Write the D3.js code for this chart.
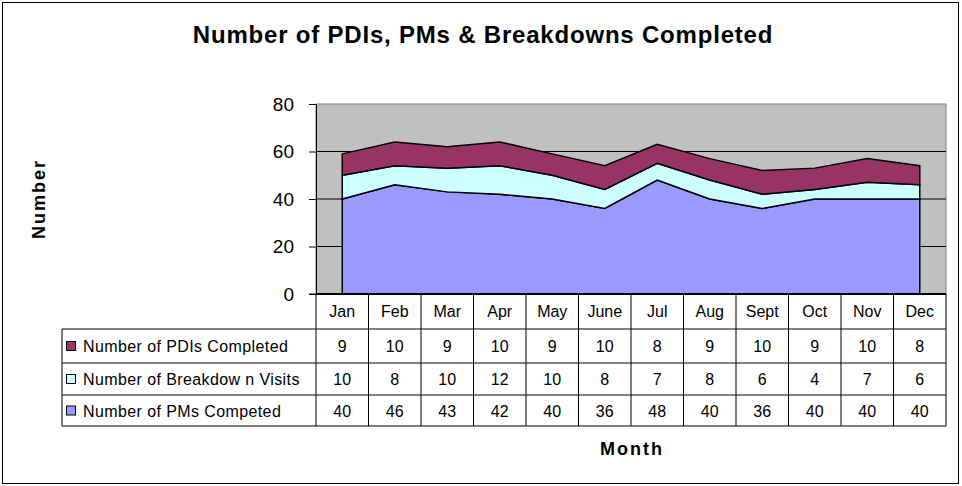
<!DOCTYPE html>
<html>
<head>
<meta charset="utf-8">
<script src="https://cdn.jsdelivr.net/npm/d3@7"></script>
<style>
  body { margin: 0; background: #fff; }
  text { font-family: "Liberation Sans", Arial, sans-serif; }
</style>
</head>
<body>
<div id="chart"></div>
<script>
var months = ["Jan", "Feb", "Mar", "Apr", "May", "June", "Jul", "Aug", "Sept", "Oct", "Nov", "Dec"];
var pms = [40, 46, 43, 42, 40, 36, 48, 40, 36, 40, 40, 40];
var breakdowns = [10, 8, 10, 12, 10, 8, 7, 8, 6, 4, 7, 6];
var pdis = [9, 10, 9, 10, 9, 10, 8, 9, 10, 9, 10, 8];
var yTicks = [0, 20, 40, 60, 80];

var seriesNames = ["Number of PMs Competed", "Number of Breakdow n Visits", "Number of PDIs Completed"];
var seriesColors = ["#9999FF", "#CCFFFF", "#993366"];

var svgWidth = 962;
var svgHeight = 486;

var plot = { left: 316, right: 946, top: 104, bottom: 294 };
var legendLeft = 62;
var rowLines = [294, 329, 363, 395, 426];

var svg = d3.select("#chart")
  .append("svg")
  .attr("width", svgWidth)
  .attr("height", svgHeight);

// outer frame
svg.append("rect")
  .attr("x", 2.5).attr("y", 2.5)
  .attr("width", 956).attr("height", 481)
  .attr("fill", "#fff")
  .attr("stroke", "#000")
  .attr("stroke-width", 1);

// build table rows for stacking
var table = months.map(function(m, i) {
  return { month: m, pms: pms[i], breakdowns: breakdowns[i], pdis: pdis[i] };
});
var keys = ["pms", "breakdowns", "pdis"];
var stacked = d3.stack().keys(keys)(table);

var xBand = d3.scaleBand()
  .domain(months)
  .range([plot.left, plot.right]);

var yScale = d3.scaleLinear()
  .domain([0, 80])
  .range([plot.bottom, plot.top]);

// plot background
svg.append("rect")
  .attr("x", plot.left).attr("y", plot.top)
  .attr("width", plot.right - plot.left)
  .attr("height", plot.bottom - plot.top)
  .attr("fill", "#C0C0C0")
  .attr("stroke", "#808080")
  .attr("stroke-width", 1);

// gridlines
svg.append("g")
  .selectAll("line")
  .data(yTicks.filter(function(t) { return t > 0 && t < 80; }))
  .enter()
  .append("line")
  .attr("x1", plot.left).attr("x2", plot.right)
  .attr("y1", function(d) { return yScale(d); })
  .attr("y2", function(d) { return yScale(d); })
  .attr("stroke", "#000")
  .attr("stroke-width", 1);

// areas
var xMid = function(d) { return xBand(d.data.month) + xBand.bandwidth() / 2; };
var area = d3.area()
  .x(xMid)
  .y0(function(d) { return yScale(d[0]); })
  .y1(function(d) { return yScale(d[1]); });

svg.append("g")
  .selectAll("path")
  .data(stacked)
  .enter()
  .append("path")
  .attr("d", area)
  .attr("fill", function(d, i) { return seriesColors[i]; })
  .attr("stroke", "#000")
  .attr("stroke-width", 1.5)
  .attr("stroke-linejoin", "miter");

// y axis
var yAxis = d3.axisLeft(yScale)
  .tickValues(yTicks)
  .tickSize(7)
  .tickPadding(15);

var yAxisG = svg.append("g")
  .attr("transform", "translate(" + plot.left + ",0)")
  .call(yAxis);
yAxisG.select(".domain").attr("stroke", "#000");
yAxisG.selectAll("line").attr("stroke", "#000");
yAxisG.selectAll("text")
  .style("font-family", "'Liberation Sans', Arial, sans-serif")
  .style("font-size", "19px")
  .attr("fill", "#000");

// data table
var tableG = svg.append("g");
var rows = [
  { name: seriesNames[2], color: seriesColors[2], values: pdis },
  { name: seriesNames[1], color: seriesColors[1], values: breakdowns },
  { name: seriesNames[0], color: seriesColors[0], values: pms }
];

// horizontal lines
tableG.append("line")
  .attr("x1", plot.left).attr("x2", plot.right)
  .attr("y1", rowLines[0]).attr("y2", rowLines[0])
  .attr("stroke", "#000").attr("stroke-width", 2);
rowLines.slice(1).forEach(function(y) {
  tableG.append("line")
    .attr("x1", legendLeft).attr("x2", plot.right)
    .attr("y1", y).attr("y2", y)
    .attr("stroke", "#000").attr("stroke-width", 1);
});
// extend zero line as a tick
tableG.append("line")
  .attr("x1", plot.left - 7).attr("x2", plot.left)
  .attr("y1", rowLines[0]).attr("y2", rowLines[0])
  .attr("stroke", "#000");

// vertical lines
var vx = months.map(function(m) { return xBand(m); }).concat([plot.right]);
tableG.selectAll("line.v")
  .data(vx)
  .enter()
  .append("line")
  .attr("class", "v")
  .attr("x1", function(d) { return d; }).attr("x2", function(d) { return d; })
  .attr("y1", rowLines[0]).attr("y2", rowLines[4])
  .attr("stroke", "#000").attr("stroke-width", 1);
tableG.append("line")
  .attr("x1", legendLeft).attr("x2", legendLeft)
  .attr("y1", rowLines[1]).attr("y2", rowLines[4])
  .attr("stroke", "#000");

// header month labels
tableG.selectAll("text.month")
  .data(months)
  .enter()
  .append("text")
  .attr("class", "month")
  .attr("x", function(d) { return xBand(d) + xBand.bandwidth() / 2; })
  .attr("y", 317)
  .attr("text-anchor", "middle")
  .style("font-size", "16px")
  .text(function(d) { return d; });

rows.forEach(function(r, ri) {
  var yTop = rowLines[ri + 1];
  var yBot = rowLines[ri + 2];
  var yMid = (yTop + yBot) / 2;

  tableG.append("rect")
    .attr("x", 66.5).attr("y", yMid - 4.5)
    .attr("width", 9).attr("height", 9)
    .attr("fill", r.color)
    .attr("stroke", "#000");

  tableG.append("text")
    .attr("x", 83).attr("y", yMid + 6)
    .style("font-size", "16px")
    .style("letter-spacing", "0.4px")
    .text(r.name);

  tableG.selectAll(null)
    .data(r.values)
    .enter()
    .append("text")
    .attr("x", function(d, i) { return xBand(months[i]) + xBand.bandwidth() / 2; })
    .attr("y", yMid + 6)
    .attr("text-anchor", "middle")
    .style("font-size", "16px")
    .text(function(d) { return d; });
});

// title
svg.append("text")
  .attr("x", 483).attr("y", 43)
  .attr("text-anchor", "middle")
  .style("font-size", "24px")
  .style("font-weight", "bold")
  .style("letter-spacing", "0.8px")
  .text("Number of PDIs, PMs & Breakdowns Completed");

// axis titles
svg.append("text")
  .attr("transform", "translate(45,199) rotate(-90)")
  .attr("text-anchor", "middle")
  .style("font-size", "18px")
  .style("font-weight", "bold")
  .style("letter-spacing", "2px")
  .text("Number");

svg.append("text")
  .attr("x", 632).attr("y", 455)
  .attr("text-anchor", "middle")
  .style("font-size", "18px")
  .style("font-weight", "bold")
  .style("letter-spacing", "2px")
  .text("Month");
</script>
</body>
</html>
